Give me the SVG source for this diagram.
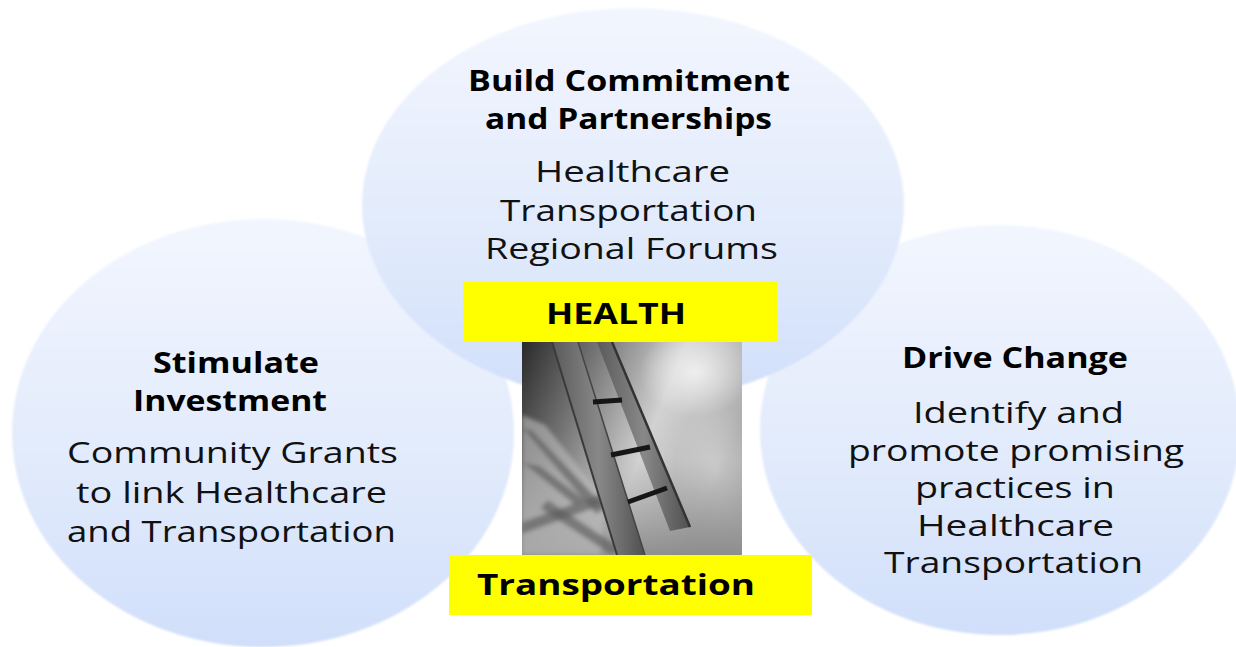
<svg xmlns="http://www.w3.org/2000/svg" width="1236" height="647" viewBox="0 0 1236 647">
  <defs>
    <linearGradient id="bubble" x1="0" y1="0" x2="0" y2="1">
      <stop offset="0" stop-color="#f2f6fe"/>
      <stop offset="0.55" stop-color="#e2ebfc"/>
      <stop offset="1" stop-color="#d1dffa"/>
    </linearGradient>
    <filter id="soft" x="-5%" y="-5%" width="110%" height="110%">
      <feGaussianBlur stdDeviation="1.2"/>
    </filter>
    <filter id="blur2" x="-10%" y="-10%" width="120%" height="120%">
      <feGaussianBlur stdDeviation="2"/>
    </filter>
    <linearGradient id="photoBg" x1="0" y1="0" x2="1" y2="0.4">
      <stop offset="0" stop-color="#2a2a2a"/>
      <stop offset="0.3" stop-color="#747474"/>
      <stop offset="0.65" stop-color="#d2d2d2"/>
      <stop offset="1" stop-color="#adadad"/>
    </linearGradient>
    <linearGradient id="photoFloor" x1="0" y1="0" x2="0" y2="1">
      <stop offset="0" stop-color="#a0a0a0" stop-opacity="0"/>
      <stop offset="0.55" stop-color="#a0a0a0" stop-opacity="0"/>
      <stop offset="1" stop-color="#8a8a8a" stop-opacity="0.9"/>
    </linearGradient>
    <radialGradient id="glow" cx="0.5" cy="0.5" r="0.5">
      <stop offset="0" stop-color="#f2f2f2" stop-opacity="0.9"/>
      <stop offset="1" stop-color="#f2f2f2" stop-opacity="0"/>
    </radialGradient>
    <linearGradient id="rail" x1="0" y1="0" x2="1" y2="0">
      <stop offset="0" stop-color="#5a5a5a"/>
      <stop offset="0.5" stop-color="#888888"/>
      <stop offset="1" stop-color="#505050"/>
    </linearGradient>
    <clipPath id="photoClip">
      <rect x="522" y="342" width="220" height="213"/>
    </clipPath>
  </defs>
  <style>
    .bubble { fill: url(#bubble); filter: url(#soft); }
    .title { font-family: "Open Sans", "Liberation Sans", sans-serif; font-weight: bold; font-size: 29px; fill: #000; text-anchor: start; }
    .body { font-family: "Open Sans", "Liberation Sans", sans-serif; font-size: 29px; fill: #111; text-anchor: start; }
    .label { fill: #ffff00; }
    .rung { stroke: #161616; stroke-width: 5; stroke-linecap: butt; }
    .shadow { fill: #5c5c5c; opacity: 0.65; }
  </style>

  <rect x="0" y="0" width="1236" height="647" fill="#ffffff"/>

  <g id="node-stimulate">
    <ellipse class="bubble" cx="263" cy="433" rx="251" ry="214"/>
    <text class="title" x="153" y="373" textLength="166" lengthAdjust="spacingAndGlyphs">Stimulate</text>
    <text class="title" x="133" y="411" textLength="194" lengthAdjust="spacingAndGlyphs">Investment</text>
    <text class="body" x="67" y="463" textLength="331" lengthAdjust="spacingAndGlyphs">Community Grants</text>
    <text class="body" x="76" y="503" textLength="311" lengthAdjust="spacingAndGlyphs">to link Healthcare</text>
    <text class="body" x="67" y="542" textLength="329" lengthAdjust="spacingAndGlyphs">and Transportation</text>
  </g>

  <g id="node-drive-change">
    <ellipse class="bubble" cx="1000" cy="430" rx="240" ry="205"/>
    <text class="title" x="902" y="368" textLength="226" lengthAdjust="spacingAndGlyphs">Drive Change</text>
    <text class="body" x="913" y="423" textLength="211" lengthAdjust="spacingAndGlyphs">Identify and</text>
    <text class="body" x="848" y="461" textLength="336" lengthAdjust="spacingAndGlyphs">promote promising</text>
    <text class="body" x="915" y="498" textLength="200" lengthAdjust="spacingAndGlyphs">practices in</text>
    <text class="body" x="917" y="536" textLength="197" lengthAdjust="spacingAndGlyphs">Healthcare</text>
    <text class="body" x="884" y="573" textLength="259" lengthAdjust="spacingAndGlyphs">Transportation</text>
  </g>

  <g id="node-build-commitment">
    <ellipse class="bubble" cx="633" cy="205" rx="271" ry="197"/>
    <text class="title" x="468" y="91" textLength="322" lengthAdjust="spacingAndGlyphs">Build Commitment</text>
    <text class="title" x="485" y="129" textLength="287" lengthAdjust="spacingAndGlyphs">and  Partnerships</text>
    <text class="body" x="535" y="182" textLength="195" lengthAdjust="spacingAndGlyphs">Healthcare</text>
    <text class="body" x="500" y="221" textLength="257" lengthAdjust="spacingAndGlyphs">Transportation</text>
    <text class="body" x="485" y="259" textLength="293" lengthAdjust="spacingAndGlyphs">Regional Forums</text>
  </g>

  <g id="node-ladder-photo" clip-path="url(#photoClip)">
    <rect x="522" y="342" width="220" height="213" fill="url(#photoBg)"/>
    <ellipse cx="695" cy="372" rx="55" ry="45" fill="url(#glow)"/>
    <ellipse cx="715" cy="470" rx="40" ry="70" fill="url(#glow)" opacity="0.45"/>
    <rect x="522" y="342" width="220" height="213" fill="url(#photoFloor)"/>
    <g filter="url(#blur2)">
      <!-- light floor band on left -->
      <polygon points="522,415 545,425 605,500 600,555 522,555" fill="#bdbdbd" opacity="0.6"/>
      <!-- ladder shadow on floor -->
      <polygon class="shadow" points="522,428 532,430 606,508 596,514"/>
      <polygon class="shadow" points="522,462 540,466 585,500 575,505"/>
      <polygon class="shadow" points="522,522 612,490 616,500 522,534"/>
      <polygon class="shadow" points="548,500 620,548 612,555 540,508"/>
    </g>
    <!-- ladder rails -->
    <polygon points="597,342 612,342 690,527 670,531" fill="url(#rail)"/>
    <polygon points="552,342 578,342 645,555 617,555" fill="url(#rail)"/>
    <line x1="552" y1="342" x2="617" y2="555" stroke="#3a3a3a" stroke-width="2"/>
    <line x1="578" y1="342" x2="645" y2="555" stroke="#444" stroke-width="1.5"/>
    <line x1="612" y1="342" x2="690" y2="527" stroke="#333" stroke-width="2.5"/>
    <!-- rungs -->
    <line class="rung" x1="593" y1="402" x2="622" y2="400"/>
    <line class="rung" x1="611" y1="455" x2="650" y2="447"/>
    <line class="rung" x1="628" y1="502" x2="667" y2="488"/>
  </g>

  <g id="node-health">
    <rect class="label" x="463" y="282" width="314" height="60"/>
    <text class="title" x="546" y="324" textLength="140" lengthAdjust="spacingAndGlyphs">HEALTH</text>
  </g>

  <g id="node-transportation">
    <rect class="label" x="449" y="555" width="363" height="60"/>
    <text class="title" x="477" y="595" textLength="278" lengthAdjust="spacingAndGlyphs">Transportation</text>
  </g>

  <g id="connectors"/>
</svg>
